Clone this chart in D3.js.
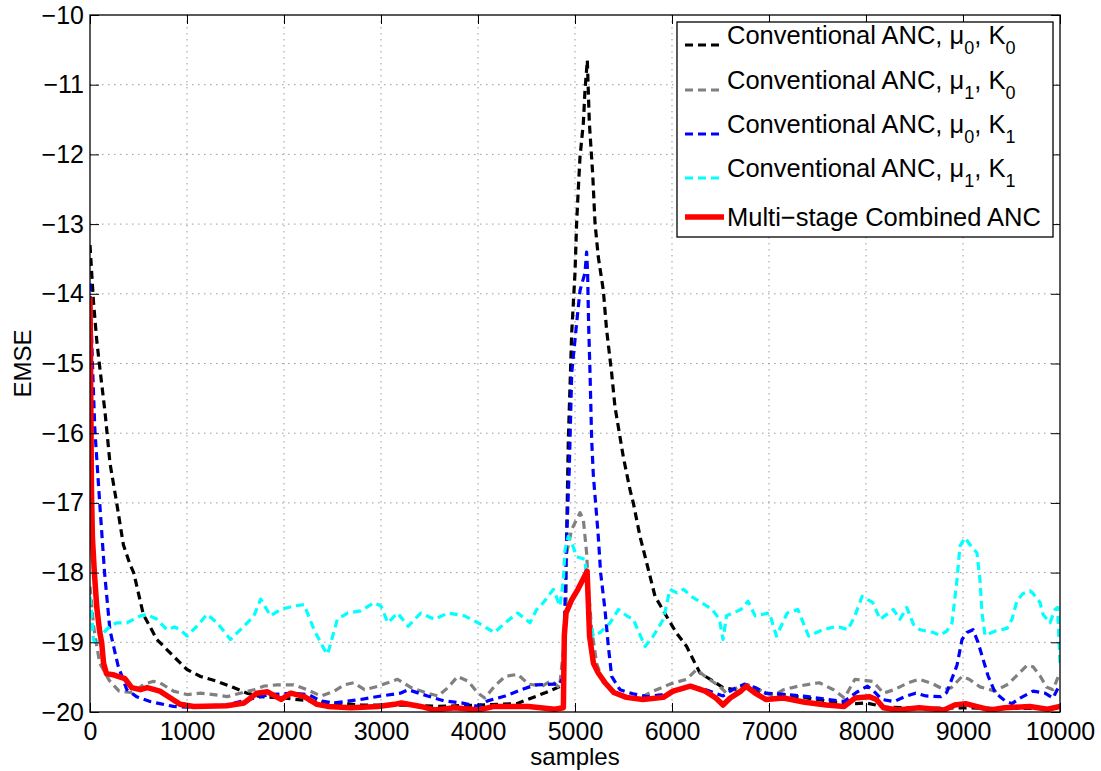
<!DOCTYPE html>
<html>
<head>
<meta charset="utf-8">
<script src="https://cdnjs.cloudflare.com/ajax/libs/d3/7.8.5/d3.min.js"></script>
<style>
  body { margin: 0; background: #fff; }
  text { font-family: "Liberation Sans", Arial, Helvetica, sans-serif; fill: #000; }
</style>
</head>
<body>
<div id="chart"></div>
<script>

// axis ticks
var xTicks = [0, 1000, 2000, 3000, 4000, 5000, 6000, 7000, 8000, 9000, 10000];
var yTicks = [-20, -19, -18, -17, -16, -15, -14, -13, -12, -11, -10];

// [sample, EMSE]
var convMu0K0 = [[0,-13.3],[35,-14.1],[69,-14.66],[96,-15.0],[155,-15.7],[206,-16.43],[275,-17.0],[344,-17.6],[412,-17.88],[450,-18.0],[550,-18.6],[690,-18.96],[860,-19.2],[1000,-19.39],[1140,-19.49],[1310,-19.56],[1480,-19.65],[1620,-19.73],[1760,-19.78],[2000,-19.8],[2200,-19.83],[2450,-19.87],[2620,-19.88],[2800,-19.9],[3200,-19.9],[3600,-19.92],[4000,-19.9],[4400,-19.88],[4700,-19.72],[4870,-19.62],[4900,-18.8],[4914,-17.49],[4931,-16.1],[4966,-14.56],[5000,-13.7],[5017,-12.98],[5034,-12.5],[5052,-12.03],[5086,-11.55],[5103,-11.08],[5127,-10.65],[5148,-11.55],[5182,-12.27],[5206,-12.98],[5240,-13.47],[5292,-13.95],[5326,-14.52],[5378,-15.14],[5412,-15.62],[5498,-16.34],[5567,-16.81],[5601,-17.0],[5670,-17.48],[5739,-17.86],[5825,-18.34],[5945,-18.63],[6048,-18.87],[6151,-19.06],[6237,-19.3],[6289,-19.44],[6415,-19.55],[6526,-19.65],[6650,-19.68],[6750,-19.62],[6930,-19.73],[7150,-19.75],[7400,-19.8],[7739,-19.87],[7900,-19.88],[8000,-19.87],[8200,-19.93],[8600,-19.95],[9000,-19.94],[9500,-19.95],[10000,-19.95]];

var convMu1K0 = [[0,-18.2],[40,-18.8],[100,-19.3],[200,-19.55],[300,-19.7],[420,-19.72],[480,-19.68],[560,-19.6],[655,-19.56],[720,-19.58],[860,-19.7],[1000,-19.75],[1140,-19.73],[1275,-19.75],[1414,-19.78],[1550,-19.73],[1690,-19.68],[1790,-19.63],[1930,-19.61],[2100,-19.61],[2240,-19.68],[2380,-19.77],[2520,-19.7],[2620,-19.61],[2720,-19.58],[2830,-19.68],[2970,-19.63],[3070,-19.58],[3170,-19.53],[3310,-19.65],[3480,-19.73],[3590,-19.77],[3690,-19.65],[3790,-19.49],[3900,-19.56],[4000,-19.73],[4070,-19.8],[4170,-19.63],[4280,-19.49],[4410,-19.46],[4520,-19.6],[4660,-19.63],[4754,-19.55],[4840,-19.65],[4897,-18.9],[4914,-17.72],[4966,-17.38],[5052,-17.14],[5086,-17.24],[5120,-17.72],[5137,-18.2],[5172,-18.82],[5223,-19.3],[5292,-19.58],[5430,-19.73],[5636,-19.82],[5807,-19.7],[5979,-19.6],[6151,-19.53],[6254,-19.39],[6342,-19.49],[6489,-19.63],[6562,-19.73],[6700,-19.63],[6783,-19.61],[6930,-19.7],[7040,-19.77],[7150,-19.68],[7298,-19.63],[7518,-19.58],[7665,-19.68],[7776,-19.8],[7886,-19.53],[8070,-19.56],[8180,-19.73],[8290,-19.68],[8437,-19.58],[8548,-19.53],[8695,-19.6],[8805,-19.68],[8880,-19.65],[8990,-19.49],[9063,-19.53],[9175,-19.64],[9330,-19.7],[9467,-19.6],[9588,-19.43],[9660,-19.33],[9722,-19.35],[9794,-19.48],[9860,-19.64],[9928,-19.68],[10000,-19.43]];

var convMu0K1 = [[0,-13.85],[25,-15.0],[50,-15.95],[100,-17.0],[150,-18.0],[205,-18.82],[250,-19.1],[290,-19.34],[380,-19.68],[480,-19.78],[620,-19.85],[720,-19.88],[860,-19.92],[1000,-19.93],[1400,-19.9],[1700,-19.8],[1850,-19.75],[2100,-19.73],[2250,-19.75],[2380,-19.84],[2520,-19.87],[2790,-19.82],[3000,-19.77],[3200,-19.73],[3280,-19.68],[3480,-19.77],[3650,-19.84],[3830,-19.87],[4000,-19.92],[4100,-19.84],[4280,-19.77],[4450,-19.68],[4590,-19.61],[4790,-19.6],[4840,-19.6],[4880,-19.5],[4897,-18.43],[4914,-17.48],[4941,-16.52],[4966,-15.14],[5017,-14.42],[5052,-13.95],[5103,-13.7],[5120,-13.4],[5130,-13.7],[5140,-14.42],[5155,-15.14],[5172,-16.1],[5189,-16.6],[5240,-17.48],[5264,-18.0],[5309,-18.53],[5344,-19.06],[5378,-19.49],[5464,-19.68],[5600,-19.74],[5750,-19.78],[5900,-19.75],[6050,-19.7],[6195,-19.63],[6350,-19.68],[6526,-19.77],[6620,-19.68],[6746,-19.6],[6860,-19.65],[6970,-19.73],[7200,-19.75],[7400,-19.78],[7600,-19.82],[7776,-19.85],[7900,-19.72],[8015,-19.63],[8080,-19.7],[8162,-19.82],[8290,-19.85],[8400,-19.78],[8511,-19.73],[8620,-19.77],[8770,-19.78],[8832,-19.72],[8938,-19.33],[8990,-18.96],[9041,-18.86],[9103,-18.82],[9155,-19.0],[9206,-19.24],[9258,-19.48],[9330,-19.72],[9433,-19.84],[9505,-19.88],[9588,-19.8],[9722,-19.7],[9845,-19.73],[9928,-19.8],[10000,-19.6]];

var convMu1K1 = [[0,-18.35],[15,-18.57],[35,-18.96],[70,-19.05],[140,-18.86],[207,-18.77],[276,-18.72],[380,-18.72],[450,-18.67],[520,-18.62],[586,-18.6],[690,-18.67],[793,-18.82],[870,-18.78],[930,-18.82],[1000,-18.91],[1100,-18.77],[1207,-18.6],[1310,-18.72],[1448,-18.96],[1586,-18.77],[1690,-18.62],[1760,-18.38],[1860,-18.62],[1966,-18.53],[2100,-18.48],[2207,-18.46],[2310,-18.82],[2414,-19.1],[2450,-19.17],[2550,-18.67],[2655,-18.58],[2790,-18.55],[2930,-18.43],[3000,-18.48],[3070,-18.72],[3170,-18.58],[3280,-18.77],[3410,-18.58],[3550,-18.67],[3690,-18.58],[3860,-18.62],[4000,-18.72],[4170,-18.86],[4280,-18.72],[4410,-18.58],[4536,-18.72],[4605,-18.53],[4674,-18.43],[4777,-18.24],[4845,-18.48],[4880,-18.1],[4897,-17.67],[4931,-17.48],[4966,-17.57],[5017,-17.77],[5103,-17.81],[5137,-18.53],[5189,-18.91],[5258,-18.86],[5361,-18.72],[5447,-18.53],[5533,-18.62],[5601,-18.67],[5722,-19.06],[5807,-18.91],[5911,-18.67],[5979,-18.24],[6051,-18.29],[6121,-18.24],[6195,-18.34],[6305,-18.43],[6415,-18.53],[6489,-18.67],[6526,-18.96],[6562,-18.62],[6710,-18.53],[6783,-18.41],[6857,-18.62],[7004,-18.58],[7077,-18.91],[7188,-18.58],[7298,-18.53],[7408,-18.91],[7555,-18.82],[7702,-18.77],[7812,-18.82],[7886,-18.62],[7960,-18.34],[8070,-18.43],[8144,-18.67],[8282,-18.53],[8350,-18.67],[8420,-18.5],[8488,-18.74],[8557,-18.82],[8694,-18.86],[8763,-18.9],[8832,-18.84],[8887,-18.72],[8938,-18.1],[8969,-17.62],[9021,-17.5],[9072,-17.6],[9144,-17.72],[9175,-18.1],[9196,-18.58],[9227,-18.9],[9280,-18.87],[9330,-18.84],[9454,-18.8],[9505,-18.67],[9557,-18.4],[9619,-18.3],[9690,-18.26],[9722,-18.3],[9794,-18.43],[9825,-18.6],[9897,-18.72],[9948,-18.53],[9975,-18.5],[10000,-19.3]];

var multiStage = [[0,-14.05],[8,-15.5],[15,-16.8],[25,-17.5],[45,-18.0],[70,-18.5],[100,-18.85],[120,-19.0],[140,-19.3],[170,-19.45],[250,-19.47],[360,-19.52],[430,-19.65],[520,-19.68],[590,-19.65],[720,-19.7],[830,-19.8],[930,-19.89],[1070,-19.92],[1410,-19.91],[1590,-19.87],[1720,-19.73],[1830,-19.71],[1970,-19.82],[2070,-19.73],[2210,-19.78],[2340,-19.89],[2450,-19.92],[2690,-19.94],[2970,-19.92],[3140,-19.89],[3210,-19.87],[3410,-19.92],[3550,-19.97],[3760,-19.94],[4000,-19.97],[4170,-19.92],[4520,-19.92],[4790,-19.96],[4880,-19.94],[4890,-18.9],[4908,-18.58],[4966,-18.39],[5030,-18.24],[5100,-18.05],[5125,-17.98],[5150,-18.91],[5190,-19.3],[5240,-19.44],[5310,-19.58],[5400,-19.72],[5530,-19.79],[5700,-19.82],[5910,-19.79],[6010,-19.7],[6190,-19.63],[6342,-19.7],[6452,-19.8],[6526,-19.9],[6600,-19.8],[6710,-19.7],[6765,-19.63],[6857,-19.73],[6967,-19.82],[7150,-19.8],[7371,-19.86],[7592,-19.9],[7776,-19.92],[7886,-19.8],[8033,-19.78],[8107,-19.82],[8180,-19.94],[8327,-19.97],[8548,-19.94],[8805,-19.97],[8915,-19.9],[9026,-19.88],[9136,-19.92],[9283,-19.97],[9430,-19.94],[9688,-19.92],[9871,-19.96],[10000,-19.92]];

// legend text pieces: [main, sub, main, sub]
var legendLabels = [
	["Conventional ANC, \u03bc", "0", ", K", "0"],
	["Conventional ANC, \u03bc", "1", ", K", "0"],
	["Conventional ANC, \u03bc", "0", ", K", "1"],
	["Conventional ANC, \u03bc", "1", ", K", "1"],
	["Multi\u2212stage Combined ANC"]
];

var series = [
	{data: convMu0K0, color: "#000000", width: 3.2, dash: "8,5"},
	{data: convMu1K0, color: "#808080", width: 3.2, dash: "8,5"},
	{data: convMu0K1, color: "#0000ff", width: 3.2, dash: "8,5"},
	{data: convMu1K1, color: "#00ffff", width: 3.2, dash: "8,5"},
	{data: multiStage, color: "#ff0000", width: 5.5, dash: null}
];

var fullWidth = 1101, fullHeight = 771;
var margin = {top: 15, right: 41, bottom: 59, left: 90},
	width = fullWidth - margin.left - margin.right,
	height = fullHeight - margin.top - margin.bottom;

var x = d3.scaleLinear().domain([0, 10000]).range([0, width]);
var y = d3.scaleLinear().domain([-20, -10]).range([height, 0]);

var svg = d3.select("#chart").append("svg")
		.attr("width", fullWidth)
		.attr("height", fullHeight)
		.style("background", "#fff");

var g = svg.append("g")
		.attr("transform", "translate(" + margin.left + "," + margin.top + ")");

g.append("clipPath")
		.attr("id", "clip")
		.append("rect")
		.attr("width", width)
		.attr("height", height);

// dotted grid
g.append("g").selectAll("line").data(xTicks.slice(1, -1)).enter().append("line")
		.attr("x1", function(d) { return x(d); })
		.attr("x2", function(d) { return x(d); })
		.attr("y1", 0).attr("y2", height)
		.attr("stroke", "#9a9a9a").attr("stroke-width", 1)
		.attr("stroke-dasharray", "1.5,4.5");

g.append("g").selectAll("line").data(yTicks.slice(1, -1)).enter().append("line")
		.attr("y1", function(d) { return y(d); })
		.attr("y2", function(d) { return y(d); })
		.attr("x1", 0).attr("x2", width)
		.attr("stroke", "#9a9a9a").attr("stroke-width", 1)
		.attr("stroke-dasharray", "1.5,4.5");

// curves
var line = d3.line()
		.x(function(d) { return x(d[0]); })
		.y(function(d) { return y(d[1]); });

var curves = g.append("g").attr("clip-path", "url(#clip)");
series.forEach(function(s) {
	curves.append("path")
		.datum(s.data)
		.attr("d", line)
		.attr("fill", "none")
		.attr("stroke", s.color)
		.attr("stroke-width", s.width)
		.attr("stroke-linejoin", "round")
		.attr("stroke-dasharray", s.dash);
});

// axes, ticks inside on all four sides
var tickLen = 9;
var xAxis = d3.axisBottom(x).tickValues(xTicks).tickSizeInner(-tickLen).tickSizeOuter(0).tickPadding(10).tickFormat(d3.format("d"));
var xTop = d3.axisTop(x).tickValues(xTicks).tickSizeInner(-tickLen).tickSizeOuter(0).tickFormat("");
var yAxis = d3.axisLeft(y).tickValues(yTicks).tickSizeInner(-tickLen).tickSizeOuter(0).tickPadding(6).tickFormat(d3.format("d"));
var yRight = d3.axisRight(y).tickValues(yTicks).tickSizeInner(-tickLen).tickSizeOuter(0).tickFormat("");

function styleAxis(sel) {
	sel.select(".domain").remove();
	sel.selectAll("line").attr("stroke", "#000").attr("stroke-width", 1);
	sel.selectAll("text").attr("font-size", 25).attr("font-family", "'Liberation Sans', Arial, sans-serif").attr("fill", "#000");
}

g.append("g").attr("transform", "translate(0," + height + ")").call(xAxis).call(styleAxis);
g.append("g").call(xTop).call(styleAxis);
g.append("g").call(yAxis).call(styleAxis);
g.append("g").attr("transform", "translate(" + width + ",0)").call(yRight).call(styleAxis);

g.append("rect")
		.attr("width", width).attr("height", height)
		.attr("fill", "none").attr("stroke", "#000").attr("stroke-width", 1.3);

// axis labels
svg.append("text")
		.attr("x", margin.left + width / 2)
		.attr("y", 765)
		.attr("text-anchor", "middle")
		.attr("font-size", 24)
		.text("samples");

svg.append("text")
		.attr("transform", "translate(31," + (margin.top + height / 2) + ") rotate(-90)")
		.attr("text-anchor", "middle")
		.attr("font-size", 24)
		.text("EMSE");

// legend
var legend = svg.append("g");
legend.append("rect")
		.attr("x", 677).attr("y", 22)
		.attr("width", 376).attr("height", 215)
		.attr("fill", "#fff").attr("stroke", "#000").attr("stroke-width", 1.3);

var legendY = [45, 90, 134, 178, 217];
legendLabels.forEach(function(parts, i) {
	var s = series[i];
	legend.append("line")
		.attr("x1", 685).attr("x2", 724)
		.attr("y1", legendY[i]).attr("y2", legendY[i])
		.attr("stroke", s.color)
		.attr("stroke-width", s.width)
		.attr("stroke-dasharray", s.dash);

	var t = legend.append("text")
		.attr("x", 727)
		.attr("y", parts.length > 1 ? legendY[i] - 1 : legendY[i] + 9)
		.attr("font-size", 25.5);

	parts.forEach(function(p, j) {
		var sub = (j % 2 == 1);
		t.append("tspan")
			.attr("dy", sub ? 10 : (j > 0 ? -10 : 0))
			.attr("font-size", sub ? 18 : 25.5)
			.text(p);
	});
});

</script>
</body>
</html>
